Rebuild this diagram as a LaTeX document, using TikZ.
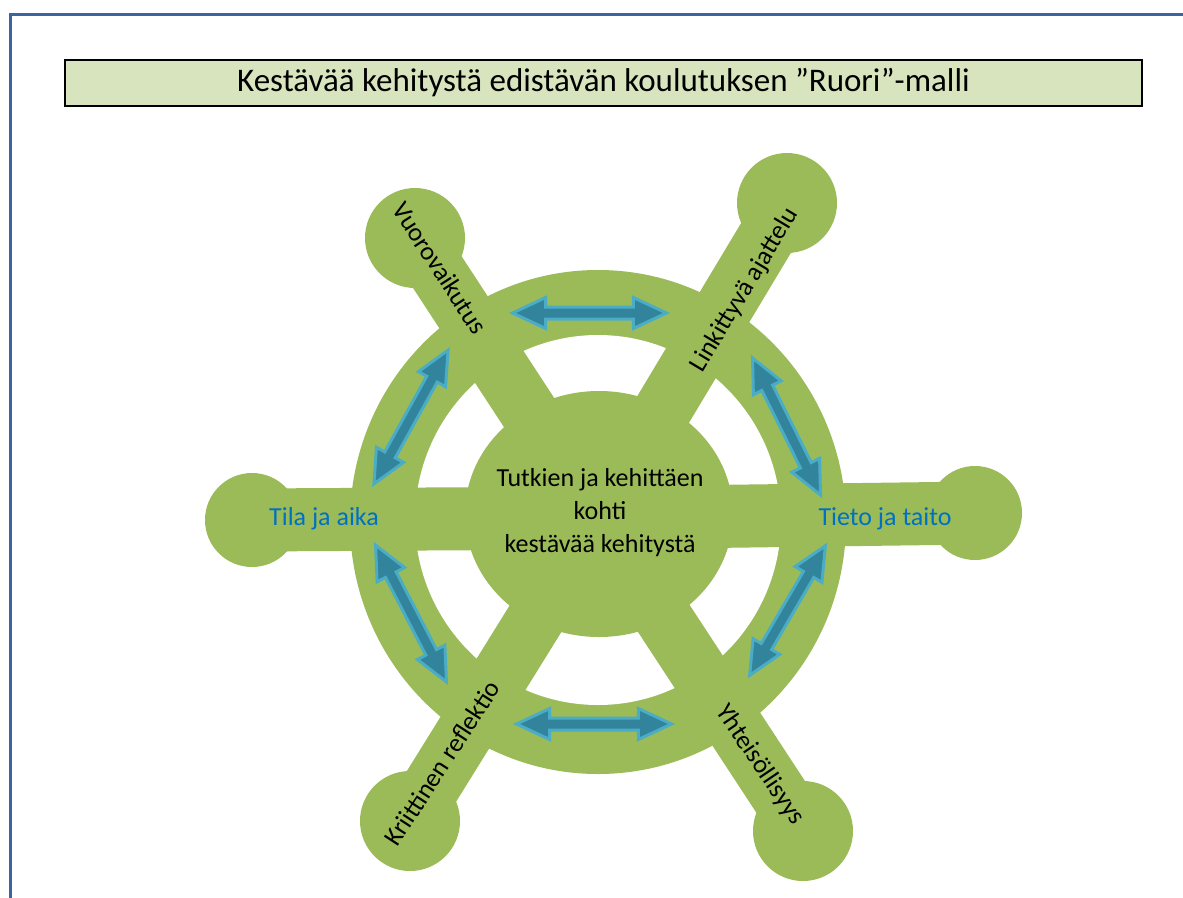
\documentclass[tikz,border=0pt]{standalone}
\usepackage{fontspec}
\setmainfont{Carlito}
\usetikzlibrary{shapes.arrows}
\definecolor{wheel}{HTML}{9BBB59}
\definecolor{titlefill}{HTML}{D7E4BD}
\definecolor{framecol}{HTML}{3C64A0}
\definecolor{arrfill}{HTML}{31849B}
\definecolor{arrline}{HTML}{4BACC6}
\definecolor{labelblue}{HTML}{0070C0}
\begin{document}
\begin{tikzpicture}[x=1pt,y=-1pt,
  titlebox/.style={draw=black, line width=1.5, fill=titlefill, inner sep=0pt,
    minimum width=1077, minimum height=46, font=\fontsize{33}{39}\selectfont},
  spokelabel/.style={font=\fontsize{26}{32}\selectfont, text=black, inner sep=0pt},
  bluelabel/.style={font=\fontsize{26}{32}\selectfont, text=labelblue, inner sep=0pt},
  hublabel/.style={font=\fontsize{26}{33}\selectfont, text=black, align=center, inner sep=0pt},
  dblarrow/.style={double arrow, draw=arrline, fill=arrfill, line width=3,
    double arrow tip angle=50, double arrow head extend=9.5,
    inner xsep=0pt, inner ysep=4.5pt, minimum width=0pt, line join=miter}]
\useasboundingbox (0,0) rectangle (1183,897);
\fill[white] (0,0) rectangle (1183,897);
% frame
\draw[framecol, line width=3] (10.5,900) -- (10.5,14.5) -- (1186,14.5);
% title
\node[titlebox] (title) at (603.5,83) {Kestävää kehitystä edistävän koulutuksen ”Ruori”-malli};
% wheel geometry
\coordinate (C) at (598,518);
\coordinate (eL) at (252,520);
\coordinate (eR) at (975,513);
\coordinate (eUL) at (415,238);
\coordinate (eUR) at (787,203);
\coordinate (eLL) at (410,821);
\coordinate (eLR) at (803,831);
% ring
\fill[wheel] (598,522) ellipse[x radius=248, y radius=252];
\fill[white] (598,520) ellipse[x radius=183, y radius=185];
% spokes
\draw[wheel, line width=63] (C) -- (eL);
\draw[wheel, line width=63] (C) -- (eR);
\draw[wheel, line width=58] (C) -- (eUL);
\draw[wheel, line width=58] (C) -- (eUR);
\draw[wheel, line width=58] (C) -- (eLL);
\draw[wheel, line width=58] (C) -- (eLR);
% end knobs
\fill[wheel] (eL) circle[radius=47];
\fill[wheel] (eR) circle[radius=47];
\fill[wheel] (eUL) circle[radius=50];
\fill[wheel] (eUR) circle[radius=50];
\fill[wheel] (eLL) circle[radius=50];
\fill[wheel] (eLR) circle[radius=50];
% hub
\fill[wheel] (599,514) ellipse[x radius=134, y radius=123];
% arrows
\node[dblarrow, minimum height=154] (aT) at (589.5,313) {};
\node[dblarrow, minimum height=155] (aB) at (594,724) {};
\node[dblarrow, minimum height=153, rotate=61] (aUL) at (411,417) {};
\node[dblarrow, minimum height=154, rotate=-62.6] (aLL) at (411,613.5) {};
\node[dblarrow, minimum height=153, rotate=-63.6] (aUR) at (786.5,426.5) {};
\node[dblarrow, minimum height=150, rotate=59.7] (aLR) at (787.5,610.5) {};
% labels
\node[spokelabel, rotate=-57] (lVuoro) at (440,268) {Vuorovaikutus};
\node[spokelabel, rotate=59] (lLink) at (745,290) {Linkittyvä ajattelu};
\node[spokelabel, rotate=57] (lKrit) at (442,763) {Kriittinen reflektio};
\node[spokelabel, rotate=-56] (lYht) at (760,765) {Yhteisöllisyys};
\node[bluelabel] (lTila) at (324,519) {Tila ja aika};
\node[bluelabel] (lTieto) at (885,519) {Tieto ja taito};
\node[hublabel] (hub) at (600,513) {Tutkien ja kehittäen\\kohti\\kestävää kehitystä};
\end{tikzpicture}
\end{document}
